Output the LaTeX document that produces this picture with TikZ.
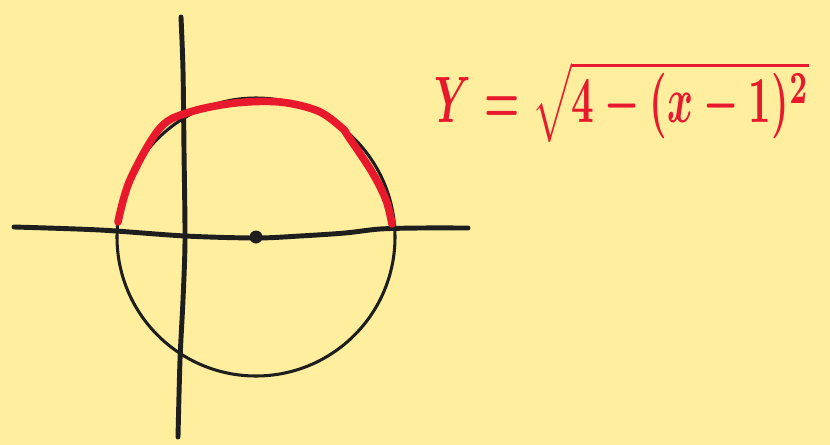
\documentclass[tikz,border=0pt]{standalone}
\usepackage{tikz}
\usetikzlibrary{positioning}
\definecolor{paperyellow}{HTML}{FEEE9E}
\definecolor{penred}{HTML}{E8192C}
\definecolor{penblack}{HTML}{1E1E1E}

\begin{document}
\begin{tikzpicture}[
      x=0.03cm, y=-0.03cm,
      axis/.style={draw=penblack, line width=4.2pt, line cap=round, line join=round},
      ring/.style={draw=penblack, line width=2.6pt},
      halfarc/.style={draw=penred, line width=6.5pt, line cap=round, line join=round},
      formula/.style={text=penred, xscale=3.37, yscale=5.6, inner sep=0pt, font=\boldmath}
    ]
      \fill[paperyellow] (0,0) rectangle (830,445);
      \useasboundingbox (0,0) rectangle (830,445);
      % circle around the centre point
      \coordinate (centre) at (256,237);
      \draw[ring] (centre) circle[radius=139];
      % axes, drawn by hand
      \draw[axis] plot[smooth, tension=0.5] coordinates {(14,227) (100,230) (185,236)
        (256,238) (300,236) (345,233) (380,229) (420,228) (468,228)};
      \draw[axis] plot[smooth, tension=0.5] coordinates {(181,17) (183,70) (184,150)
        (185,240) (183,300) (180,360) (178,437)};
      \fill[penblack] (centre) circle[radius=6.5];
      % upper half in red
      \draw[halfarc] plot[smooth, tension=0.55] coordinates {(118,222) (130,180)
        (160,128) (190,112) (235,103) (280,102) (318,111) (342,128) (348,136)
        (372,172) (386,200) (392,224)};
      \node[formula] (equation) at (622,102) {$Y=\sqrt{4-(x-1)^2}$};
    \end{tikzpicture}
\end{document}
